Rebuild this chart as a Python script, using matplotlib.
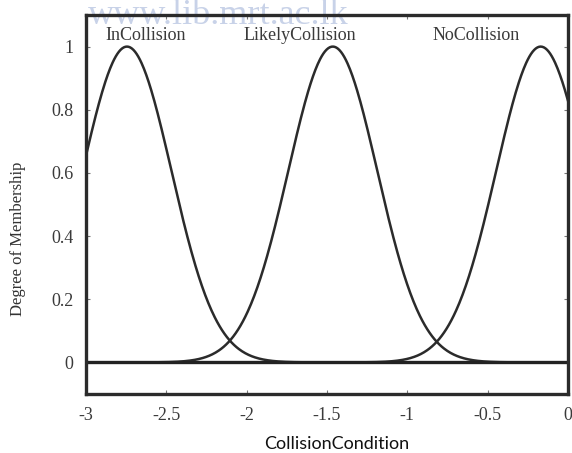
import numpy as np
from matplotlib import pyplot as plt

plt.rcParams['font.family'] = ['Liberation Serif', 'DejaVu Serif']

# Membership functions (gaussian)
mf_names = ["InCollision", "LikelyCollision", "NoCollision"]
mf_centers = [-2.745, -1.464, -0.17]
mf_sigma = [0.277, 0.277, 0.277]
label_x = [-2.63, -1.67, -0.57]

xticks = [-3, -2.5, -2, -1.5, -1, -0.5, 0]
xticklabels = ["-3", "-2.5", "-2", "-1.5", "-1", "-0.5", "0"]
yticks = [0, 0.2, 0.4, 0.6, 0.8, 1]
yticklabels = ["0", "0.2", "0.4", "0.6", "0.8", "1"]

fig = plt.figure(figsize=(5.72, 4.53), dpi=100)
ax = fig.add_axes([86 / 572, 1 - 394 / 453, (568 - 86) / 572, (394 - 15) / 453])
ax.patch.set_alpha(0)

# faint watermark from the scan
fig.text(218 / 572, 1 - 24 / 453, "www.lib.mrt.ac.lk", ha="center", va="baseline",
         fontsize=26, color="#c8d2e8", zorder=-1)

x = np.linspace(-3, 0, 600)
for c, s in zip(mf_centers, mf_sigma):
    ax.plot(x, np.exp(-(x - c) ** 2 / (2 * s ** 2)), color="#2b2b2b", lw=1.8)
ax.axhline(0, color="#222222", lw=2.4)

for name, lx in zip(mf_names, label_x):
    ax.text(lx, 1.02, name, ha="center", va="baseline", fontsize=13, color="#3a3a3a")

ax.set_xlim(-3, 0)
ax.set_ylim(-0.1, 1.1)
ax.set_xticks(xticks)
ax.set_xticklabels(xticklabels, fontsize=13, color="#3a3a3a")
ax.set_yticks(yticks)
ax.set_yticklabels(yticklabels, fontsize=13, color="#3a3a3a")
ax.tick_params(direction="in", length=3, width=0.8, color="#777777", pad=9,
               top=True, right=True)
for sp in ax.spines.values():
    sp.set_linewidth(2.4)
    sp.set_color("#2b2b2b")

ax.set_ylabel("Degree of Membership", fontsize=12, color="#333333")
ax.yaxis.set_label_coords(-0.125, 0.41)
ax.set_xlabel("CollisionCondition", family="Lato", fontsize=13, color="#111111")
ax.xaxis.set_label_coords(0.52, -0.11)

fig.savefig("out.png", dpi=100)
